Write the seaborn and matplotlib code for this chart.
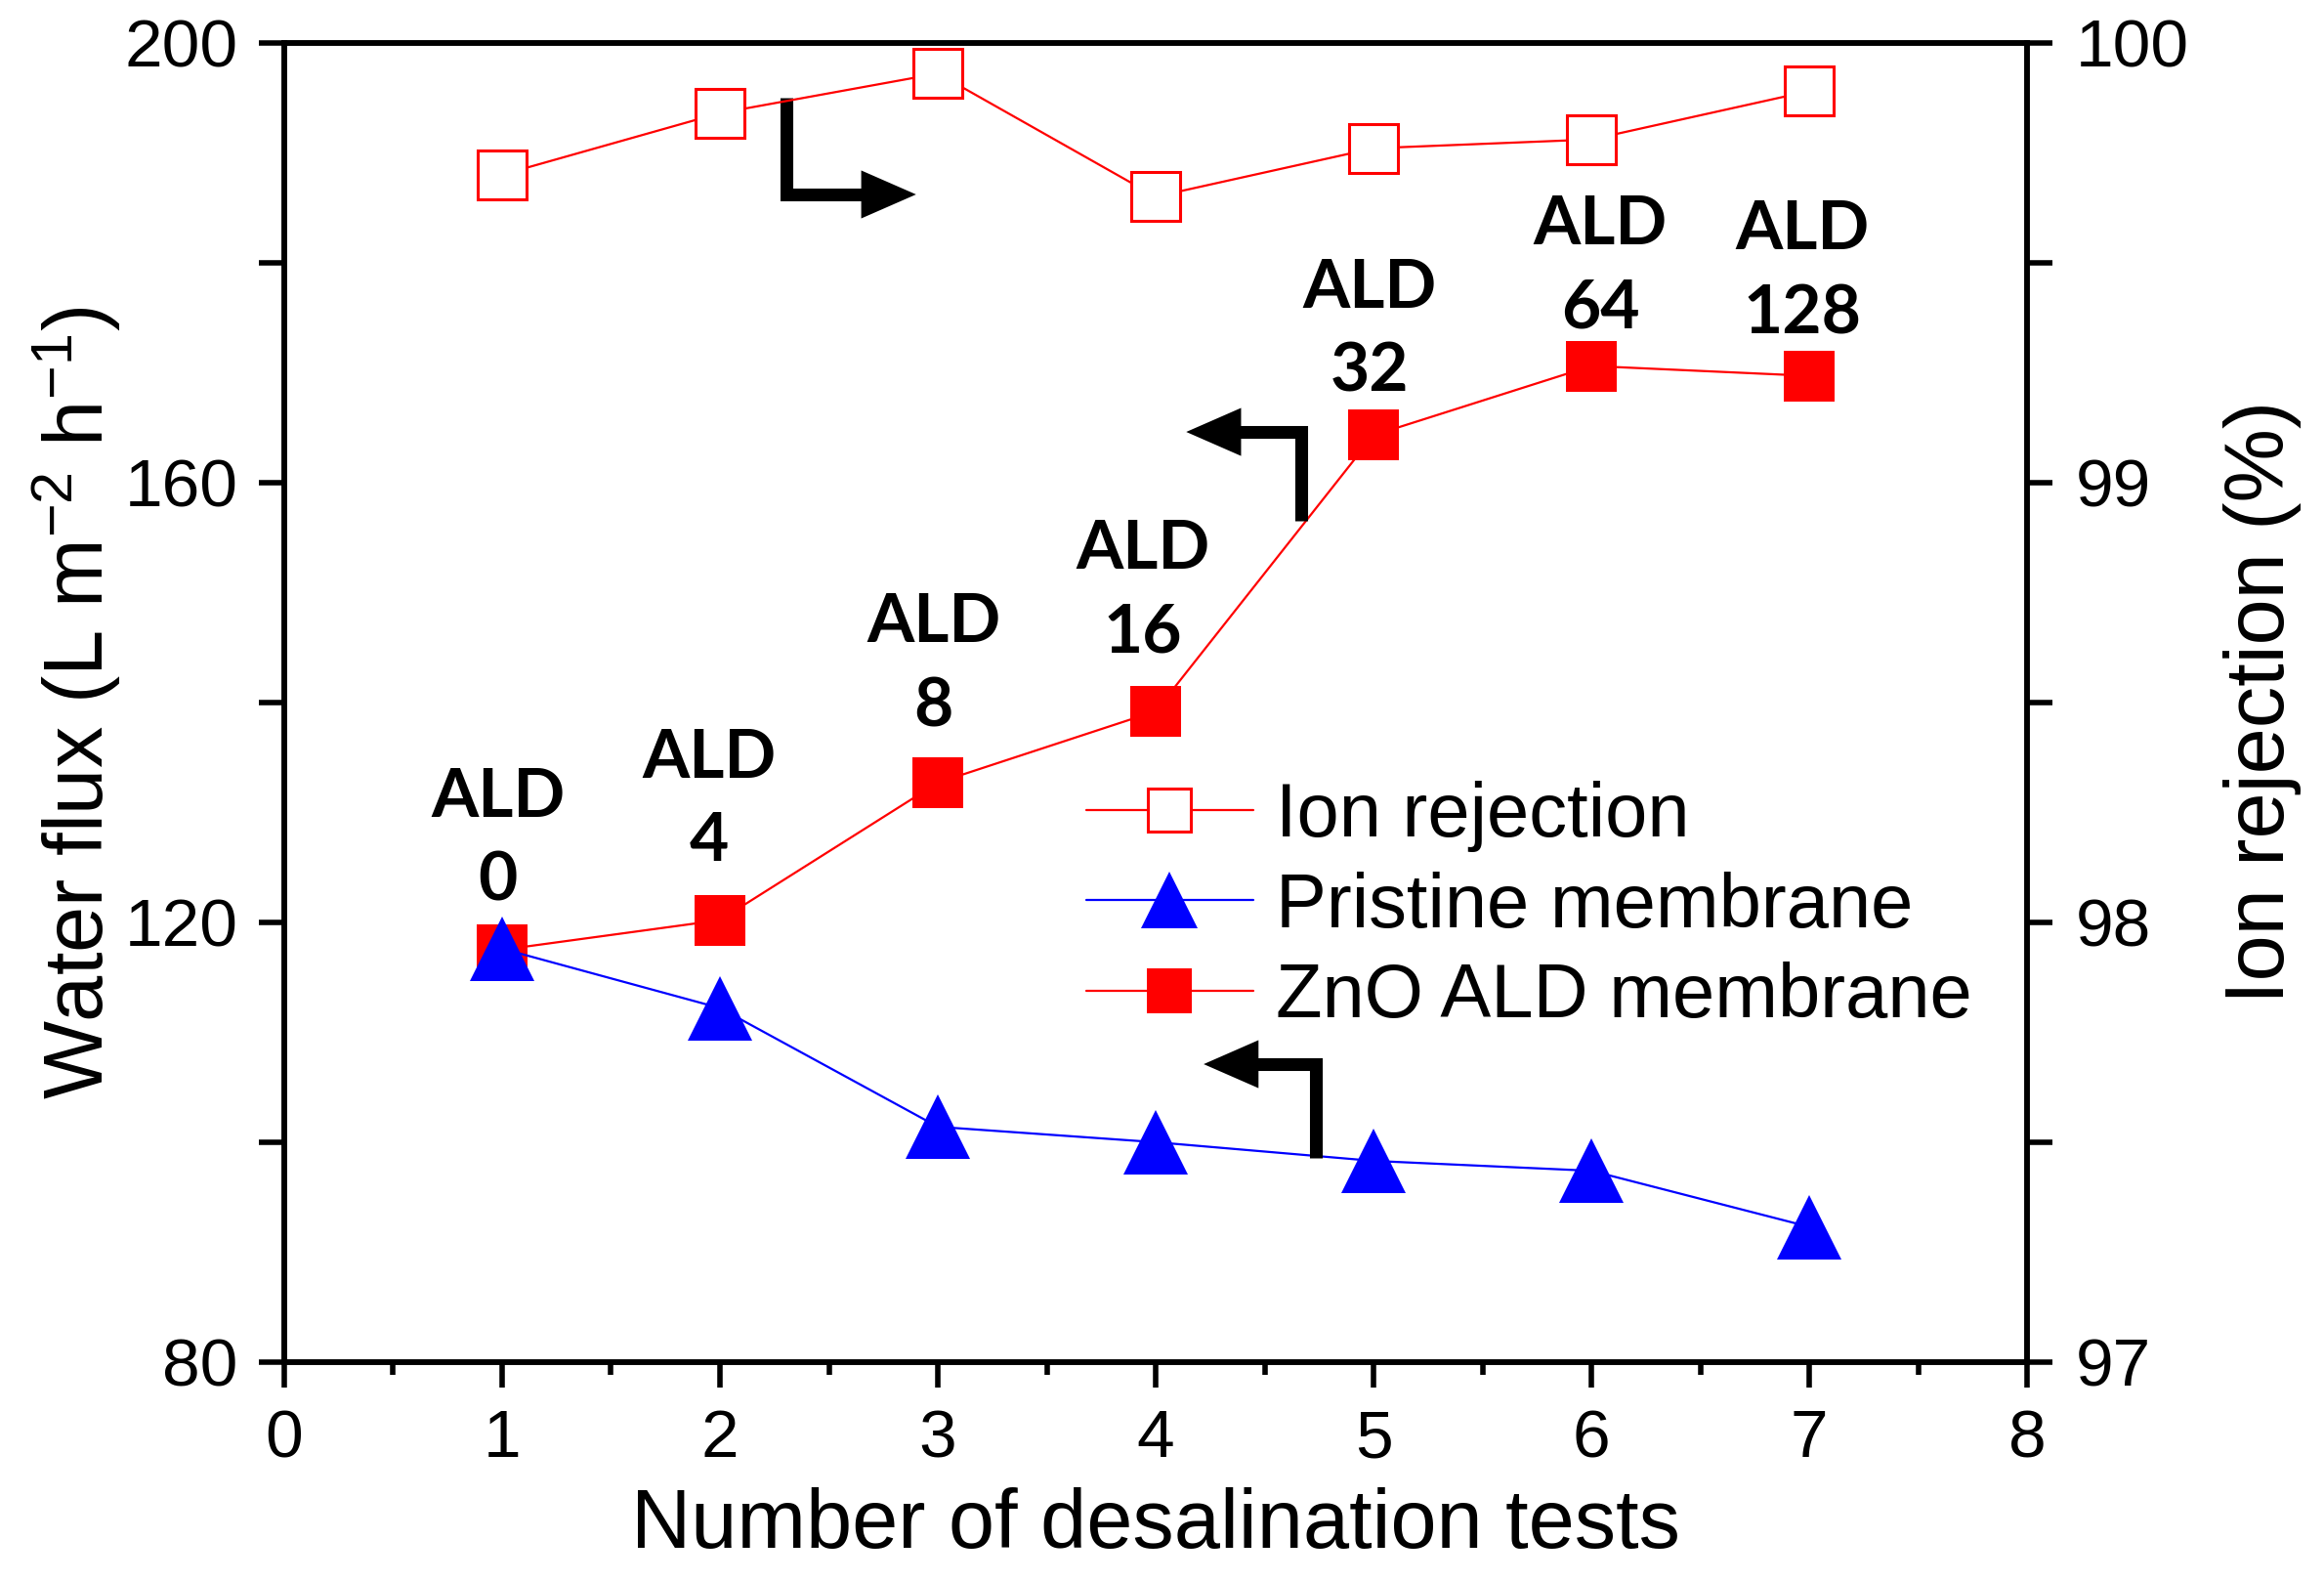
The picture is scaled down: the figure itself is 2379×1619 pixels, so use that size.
import matplotlib
matplotlib.use("Agg")
import matplotlib.pyplot as plt
import seaborn as sns
import numpy as np
from matplotlib.ticker import MultipleLocator

# ---- data ----
tests = [1, 2, 3, 4, 5, 6, 7]
ion_rejection = [99.70, 99.84, 99.93, 99.65, 99.76, 99.78, 99.89]
pristine_flux = [117.6, 112.2, 101.4, 100.0, 98.3, 97.4, 92.3]
zno_flux = [117.5, 120.2, 132.7, 139.2, 164.3, 170.6, 169.7]
ald_labels = ["ALD\n0", "ALD\n4", "ALD\n8", "ALD\n16", "ALD\n32", "ALD\n64", "ALD\n128"]
ald_label_x = [0.98, 1.95, 2.98, 3.94, 4.98, 6.04, 6.97]
ald_label_y = [127.5, 131.1, 143.4, 150.1, 173.8, 179.6, 179.1]

sns.set_style("ticks")
plt.rcParams['font.family'] = ['Liberation Sans', 'DejaVu Sans']
plt.rcParams['mathtext.default'] = 'regular'
for k in ['text.color', 'axes.labelcolor', 'xtick.color', 'ytick.color', 'axes.edgecolor']:
    plt.rcParams[k] = 'black'

fig = plt.figure(figsize=(23.79, 16.19), dpi=100)
ax = fig.add_axes([0.1223, 0.139, 0.750, 0.834])
ax2 = ax.twinx()

RED = "#FF0000"
BLUE = "#0000FF"

sns.lineplot(x=tests, y=zno_flux, ax=ax, color=RED, lw=1.6, marker="s",
             markersize=37, markeredgewidth=0, markerfacecolor=RED, label="ZnO ALD membrane")
sns.lineplot(x=tests, y=pristine_flux, ax=ax, color=BLUE, lw=1.6, marker="^",
             markersize=47, markeredgewidth=0, markerfacecolor=BLUE, label="Pristine membrane")
sns.lineplot(x=tests, y=ion_rejection, ax=ax2, color=RED, lw=1.6, marker="s",
             markersize=36, markeredgewidth=2.2, markerfacecolor="white", markeredgecolor=RED,
             label="Ion rejection")

ax.set_xlim(0, 8)
ax.set_ylim(80, 200)
ax2.set_ylim(97, 100)

ax.xaxis.set_major_locator(MultipleLocator(1))
ax.xaxis.set_minor_locator(MultipleLocator(0.5))
ax.yaxis.set_major_locator(MultipleLocator(40))
ax.yaxis.set_minor_locator(MultipleLocator(20))
ax2.yaxis.set_major_locator(MultipleLocator(1))
ax2.yaxis.set_minor_locator(MultipleLocator(0.5))

for a in (ax, ax2):
    for s in a.spines.values():
        s.set_linewidth(4)
        s.set_color("black")
    a.tick_params(which="major", length=19, width=4, labelsize=50, color="black", labelcolor="black")
    a.tick_params(which="minor", length=19, width=4, color="black")
ax.tick_params(axis="x", which="minor", length=9.5)
ax.tick_params(axis="x", which="major", pad=15)
ax.tick_params(axis="y", which="major", pad=15)
ax2.tick_params(axis="y", which="major", pad=17)
ax.tick_params(axis="x", which="both", top=False)

ax.set_xlabel("Number of desalination tests", fontsize=61, labelpad=12)
ax.set_ylabel("Water flux (L m$^{-2}$ h$^{-1}$)", fontsize=61, labelpad=1)
ax2.set_ylabel("Ion rejection (%)", fontsize=61, labelpad=25)

# ALD annotations
for lx, ly, txt in zip(ald_label_x, ald_label_y, ald_labels):
    ax.text(lx, ly, txt, ha="center", va="center", fontsize=50, fontweight="bold",
            family=["Lato", "DejaVu Sans"], linespacing=1.45, zorder=5)

# L-shaped arrows
arrow_kw = dict(arrowstyle="-|>,head_length=2.4,head_width=1.05", lw=9.4, color="black",
                shrinkA=0, shrinkB=0, joinstyle="miter", capstyle="butt",
                connectionstyle="angle,angleA=90,angleB=0,rad=0")
ax.annotate("", xy=(2.90, 186.2), xytext=(2.305, 195.0), arrowprops=arrow_kw)
ax.annotate("", xy=(4.14, 164.6), xytext=(4.668, 156.5), arrowprops=arrow_kw)
ax.annotate("", xy=(4.22, 107.1), xytext=(4.735, 98.6), arrowprops=arrow_kw)

# legend
h1, _ = ax.get_legend_handles_labels()
h2, _ = ax2.get_legend_handles_labels()
if ax.get_legend():
    ax.get_legend().remove()
if ax2.get_legend():
    ax2.get_legend().remove()
handles = [h2[0], h1[1], h1[0]]
labels = ["Ion rejection", "Pristine membrane", "ZnO ALD membrane"]
leg = ax2.legend(handles, labels, loc="center left", bbox_to_anchor=(0.46, 0.345),
                 frameon=False, fontsize=56, handlelength=2.2, handletextpad=0.3,
                 labelspacing=0.25, borderpad=0, borderaxespad=0, markerscale=0.88)

fig.savefig("out.png", dpi=100)
